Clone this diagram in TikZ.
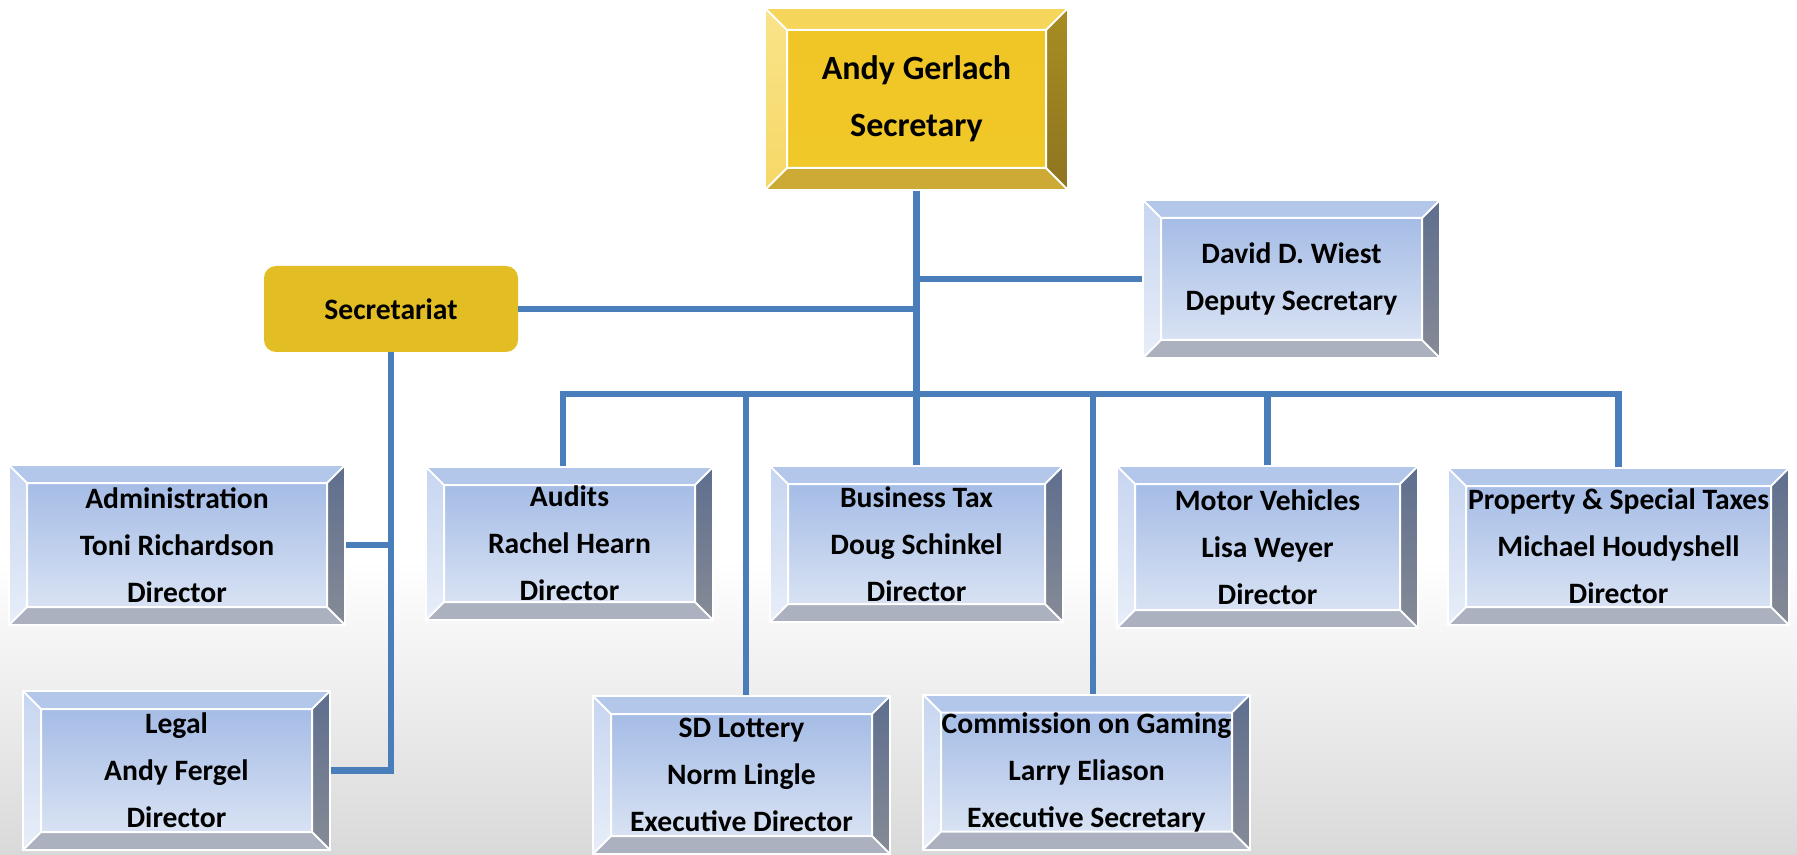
\documentclass[tikz,border=0pt]{standalone}
\usepackage{fontspec}
\setmainfont{Carlito}
\usetikzlibrary{calc}

\definecolor{linkblue}{HTML}{4A7EBB}
\definecolor{bggray}{HTML}{D9D9D9}
\definecolor{secgold}{HTML}{E2BD23}
% blue bevel colours
\definecolor{bluetop}{HTML}{B3C7EB}
\definecolor{blueleftA}{HTML}{C6D5F0}
\definecolor{blueleftB}{HTML}{E8EEF9}
\definecolor{bluerightA}{HTML}{5E6E8E}
\definecolor{bluerightB}{HTML}{868B96}
\definecolor{bluebot}{HTML}{ABB1BF}
\definecolor{bluefaceA}{HTML}{A5BCE6}
\definecolor{bluefaceB}{HTML}{D8E2F3}
% gold bevel colours
\definecolor{goldtop}{HTML}{F5D55A}
\definecolor{goldleftA}{HTML}{FAE38A}
\definecolor{goldleftB}{HTML}{F6D866}
\definecolor{goldrightA}{HTML}{A88C22}
\definecolor{goldrightB}{HTML}{8E7520}
\definecolor{goldbot}{HTML}{CCAA35}
\definecolor{goldfaceA}{HTML}{F0C626}
\definecolor{goldfaceB}{HTML}{F0C828}

% #1 colour prefix, #2 bevel width
\newcommand{\bevelpic}[2]{%
  \path (path picture bounding box.south west) coordinate (bsw)
        (path picture bounding box.north east) coordinate (bne);
  \path (bsw -| bne) coordinate (bse) (bsw |- bne) coordinate (bnw);
  \path ($(bsw)+(#2,#2)$) coordinate (isw) ($(bne)+(-#2,-#2)$) coordinate (ine);
  \path (isw -| ine) coordinate (ise) (isw |- ine) coordinate (inw);
  \fill[#1top] (bnw) -- (bne) -- (ine) -- (inw) -- cycle;
  \shade[top color=#1leftA, bottom color=#1leftB] (bnw) -- (inw) -- (isw) -- (bsw) -- cycle;
  \shade[top color=#1rightA, bottom color=#1rightB] (bne) -- (bse) -- (ise) -- (ine) -- cycle;
  \fill[#1bot] (bsw) -- (isw) -- (ise) -- (bse) -- cycle;
  \shade[top color=#1faceA, bottom color=#1faceB] (inw) rectangle (ise);
  \draw[white, line width=1pt] (inw) rectangle (ise)
    (bnw) -- (inw) (bne) -- (ine) (bsw) -- (isw) (bse) -- (ise);
}

\begin{document}
\begin{tikzpicture}[
  x=0.5pt, y=-0.5pt,
  bluebox/.style = {rectangle, inner sep=0pt, align=center, draw=white, line width=1pt,
                    font=\bfseries\fontsize{14.8}{23.5}\selectfont,
                    path picture={\bevelpic{blue}{9pt}}},
  goldbox/.style = {rectangle, inner sep=0pt, align=center, draw=white, line width=1pt,
                    font=\bfseries\fontsize{17}{28.5}\selectfont,
                    path picture={\bevelpic{gold}{11pt}}},
  flatbox/.style = {rectangle, rounded corners=6pt, inner sep=0pt, fill=secgold,
                    font=\bfseries\fontsize{14.8}{17}\selectfont},
  link/.style = {draw=linkblue, line width=3.2pt},
]
  % background
  \fill[white] (0,0) rectangle (1797,855);
  \shade[top color=white, bottom color=bggray] (0,560) rectangle (1797,855);

  % boxes
  \node[goldbox, minimum width=151.5pt, minimum height=91pt] (sec) at (916.5,99)
    {Andy Gerlach\\Secretary};
  \node[flatbox, minimum width=127pt, minimum height=43pt] (secretariat) at (391,309)
    {Secretariat};
  \node[bluebox, minimum width=148.5pt, minimum height=79pt] (deputy) at (1291.5,279)
    {David D. Wiest\\Deputy Secretary};

  \node[bluebox, minimum width=168pt, minimum height=80pt] (admin) at (177,545)
    {Administration\\Toni Richardson\\Director};
  \node[bluebox, minimum width=143.5pt, minimum height=76.5pt] (audits) at (569.5,543.5)
    {Audits\\Rachel Hearn\\Director};
  \node[bluebox, minimum width=146.5pt, minimum height=78pt] (bustax) at (916.5,544)
    {Business Tax\\Doug Schinkel\\Director};
  \node[bluebox, minimum width=150.5pt, minimum height=81pt] (motor) at (1267.5,547)
    {Motor Vehicles\\Lisa Weyer\\Director};
  \node[bluebox, minimum width=170.5pt, minimum height=78.5pt] (property) at (1618.5,546.5)
    {Property \& Special Taxes\\Michael Houdyshell\\Director};

  \node[bluebox, minimum width=153.5pt, minimum height=79.5pt] (legal) at (176.5,770.5)
    {Legal\\Andy Fergel\\Director};
  \node[bluebox, minimum width=148.5pt, minimum height=79pt] (lottery) at (741.5,775)
    {SD Lottery\\Norm Lingle\\Executive Director};
  \node[bluebox, minimum width=163.5pt, minimum height=77.5pt] (gaming) at (1086.5,772)
    {Commission on Gaming\\Larry Eliason\\Executive Secretary};

  % connectors
  \coordinate (bus) at (916.5,394);
  \draw[link] (sec.south) -- (bustax.north);
  \draw[link] (secretariat.east) -- (secretariat.east -| sec.south);
  \draw[link] (deputy.west) -- (deputy.west -| sec.south);
  \draw[link] ([xshift=-3.2pt]audits.north) |- (bus) -| (property.north);
  \draw[link] ([xshift=2.2pt]lottery.north) -- ([xshift=2.2pt]lottery.north |- bus);
  \draw[link] ([xshift=3.2pt]gaming.north) -- ([xshift=3.2pt]gaming.north |- bus);
  \draw[link] (motor.north) -- (motor.north |- bus);
  \draw[link] (secretariat.south) |- (legal.east);
  \draw[link] (admin.east) -- (admin.east -| secretariat.south);
\end{tikzpicture}
\end{document}
